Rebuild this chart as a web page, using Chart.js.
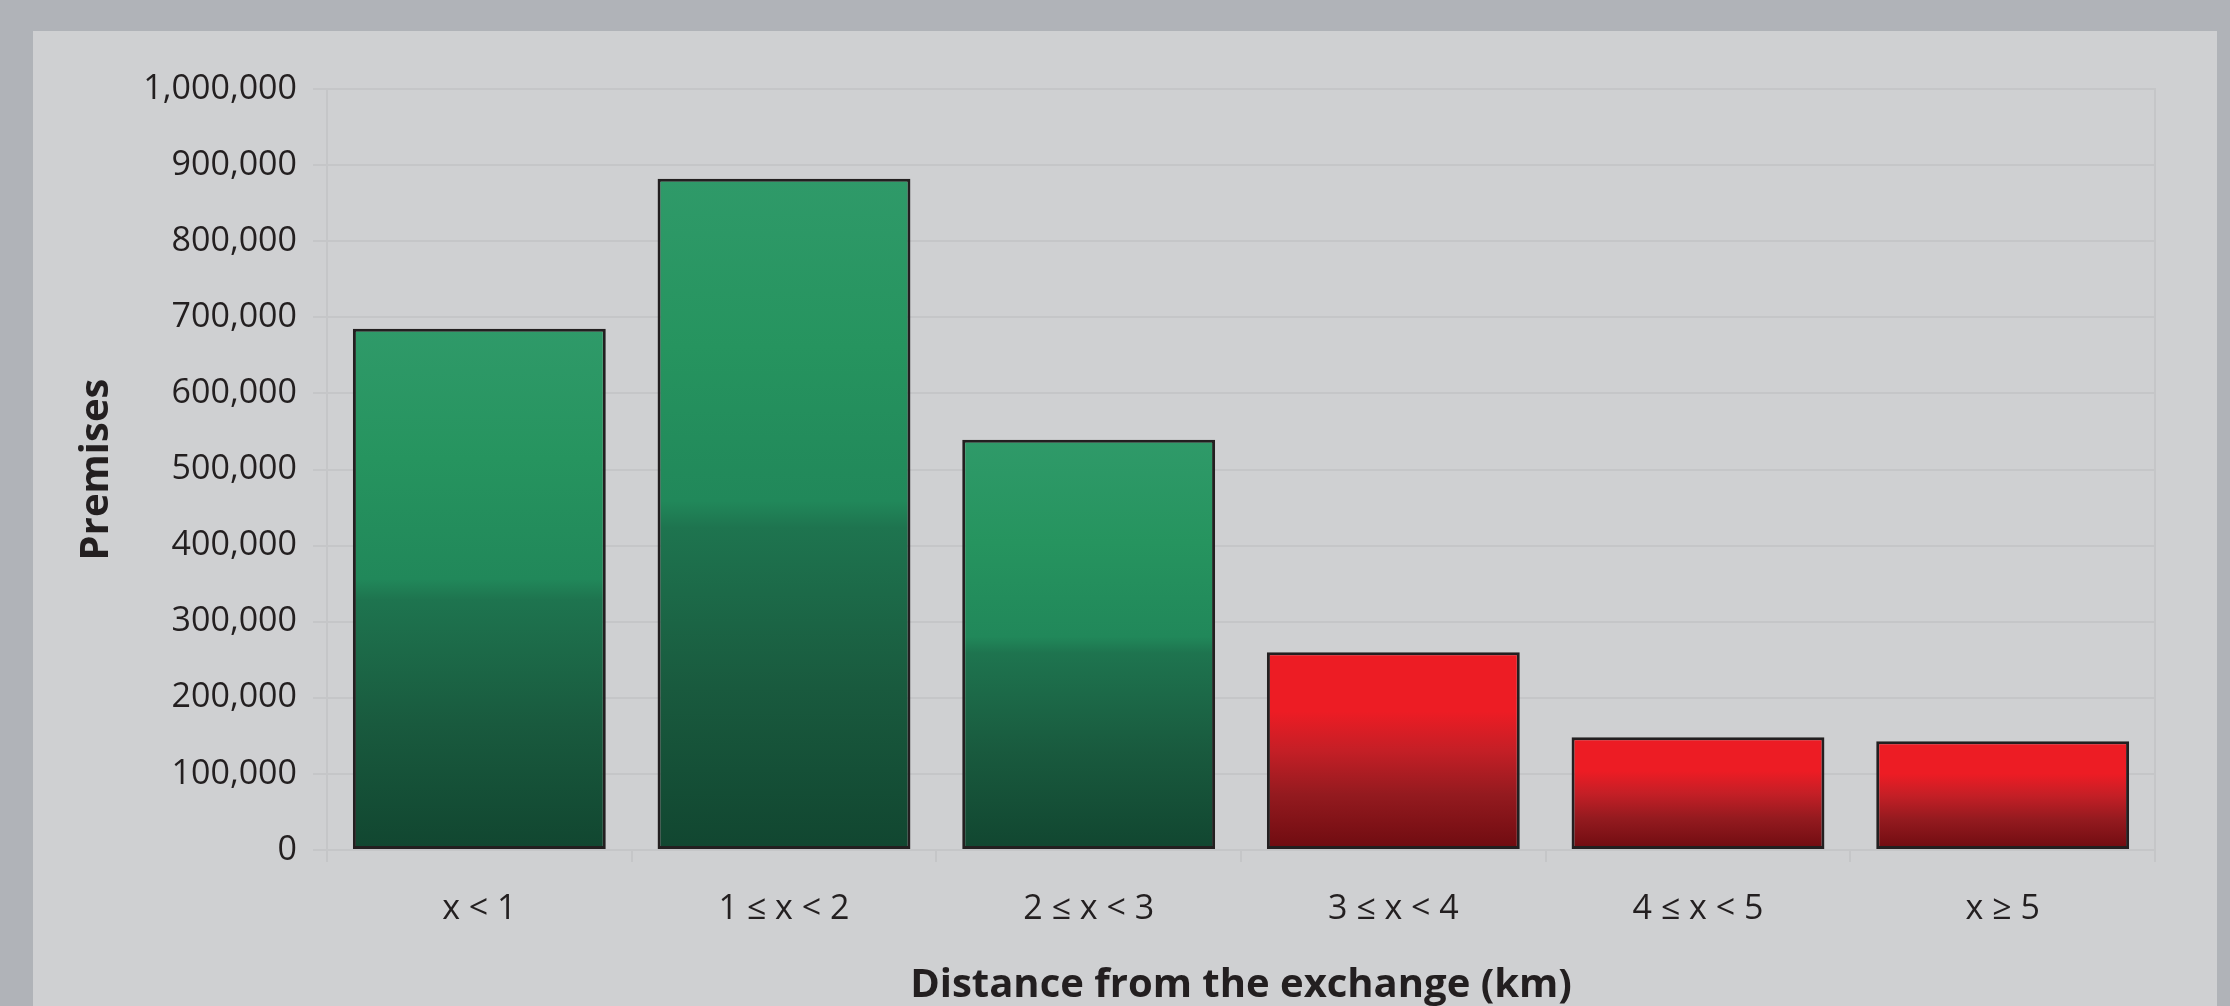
<!DOCTYPE html>
<html>
<head>
<meta charset="utf-8">
<script src="https://cdn.jsdelivr.net/npm/chart.js@4.4.1/dist/chart.umd.min.js"></script>
<style>
    html, body { margin: 0; padding: 0; background: #b0b3b8; overflow: hidden; }
    #panel { position: absolute; left: 33px; top: 31px; width: 2184px; height: 975px; background: #cfd0d2; }
    #premisesChart { position: absolute; left: 0; top: 0; }
</style>
</head>
<body>
<div id="panel"></div>
<canvas id="premisesChart" width="2230" height="1006"></canvas>
<script>
// Số liệu
const distanceBands = ['x < 1', '1 ≤ x < 2', '2 ≤ x < 3', '3 ≤ x < 4', '4 ≤ x < 5', 'x ≥ 5'];
const premises = [685000, 882000, 539000, 260000, 148000, 143000];
const yTicks = [0, 100000, 200000, 300000, 400000, 500000, 600000, 700000, 800000, 900000, 1000000];

const greenStops = [[0, '#2f9a69'], [0.25, '#26945f'], [0.48, '#21885a'], [0.52, '#1e744f'], [0.76, '#195a3e'], [1, '#114630']];
const redStops = [[0, '#ed1c24'], [0.3, '#ed1c24'], [0.5, '#c41f26'], [0.72, '#941a1f'], [1, '#6e0b10']];
const textColour = '#231f20';
const gridColour = '#c5c6c8';

function barGradient(context) {
    const chart = context.chart;
    if (!chart.chartArea) return '#2f9a69';
    const y = chart.scales.y;
    const top = y.getPixelForValue(premises[context.dataIndex]);
    const bottom = y.getPixelForValue(0);
    const g = chart.ctx.createLinearGradient(0, top, 0, bottom);
    const stops = context.dataIndex < 3 ? greenStops : redStops;
    stops.forEach(s => g.addColorStop(s[0], s[1]));
    return g;
}

// khung trên và phải của vùng vẽ
const plotFrame = {
    id: 'plotFrame',
    beforeDatasetsDraw(chart) {
        const a = chart.chartArea;
        const ctx = chart.ctx;
        ctx.save();
        ctx.strokeStyle = gridColour;
        ctx.lineWidth = 2;
        ctx.beginPath();
        ctx.moveTo(a.left, a.top);
        ctx.lineTo(a.right, a.top);
        ctx.lineTo(a.right, a.bottom + 12);
        ctx.stroke();
        ctx.restore();
    }
};

const ctx = document.getElementById('premisesChart').getContext('2d');
new Chart(ctx, {
    type: 'bar',
    data: {
        labels: distanceBands,
        datasets: [{
            label: 'Premises',
            data: premises,
            backgroundColor: barGradient,
            borderColor: '#231f20',
            borderWidth: 3,
            borderSkipped: false,
            categoryPercentage: 0.83,
            barPercentage: 1
        }]
    },
    options: {
        responsive: false,
        animation: false,
        layout: { padding: { top: 89, right: 75, bottom: 0, left: 0 } },
        plugins: {
            legend: { display: false },
            tooltip: { enabled: false }
        },
        scales: {
            x: {
                afterFit: function (scale) { scale.height = 156; },
                grid: { drawOnChartArea: false, drawTicks: true, tickLength: 12, color: gridColour, lineWidth: 2 },
                border: { color: gridColour, width: 2 },
                ticks: { color: textColour, padding: 27, font: { family: 'Open Sans', size: 34 } },
                title: {
                    display: true,
                    text: 'Distance from the exchange (km)',
                    color: textColour,
                    padding: { top: 0, bottom: 0 },
                    font: { family: 'Open Sans', size: 40, weight: 'bold', lineHeight: 1.0 }
                }
            },
            y: {
                min: 0,
                max: 1000000,
                afterFit: function (scale) { scale.width = 327; },
                afterBuildTicks: function (scale) { scale.ticks = yTicks.map(v => ({ value: v })); },
                grid: { color: gridColour, lineWidth: 2, tickLength: 14 },
                border: { color: gridColour, width: 2 },
                ticks: {
                    color: textColour,
                    padding: 16,
                    font: { family: 'Open Sans', size: 34 },
                    callback: function (value) {
                        return new Intl.NumberFormat('en-US').format(value);
                    }
                },
                title: {
                    display: true,
                    text: 'Premises',
                    color: textColour,
                    padding: { top: 73, bottom: 0 },
                    font: { family: 'Open Sans', size: 40, weight: 'bold', lineHeight: 1.2 }
                }
            }
        }
    },
    plugins: [plotFrame]
});
</script>
</body>
</html>
